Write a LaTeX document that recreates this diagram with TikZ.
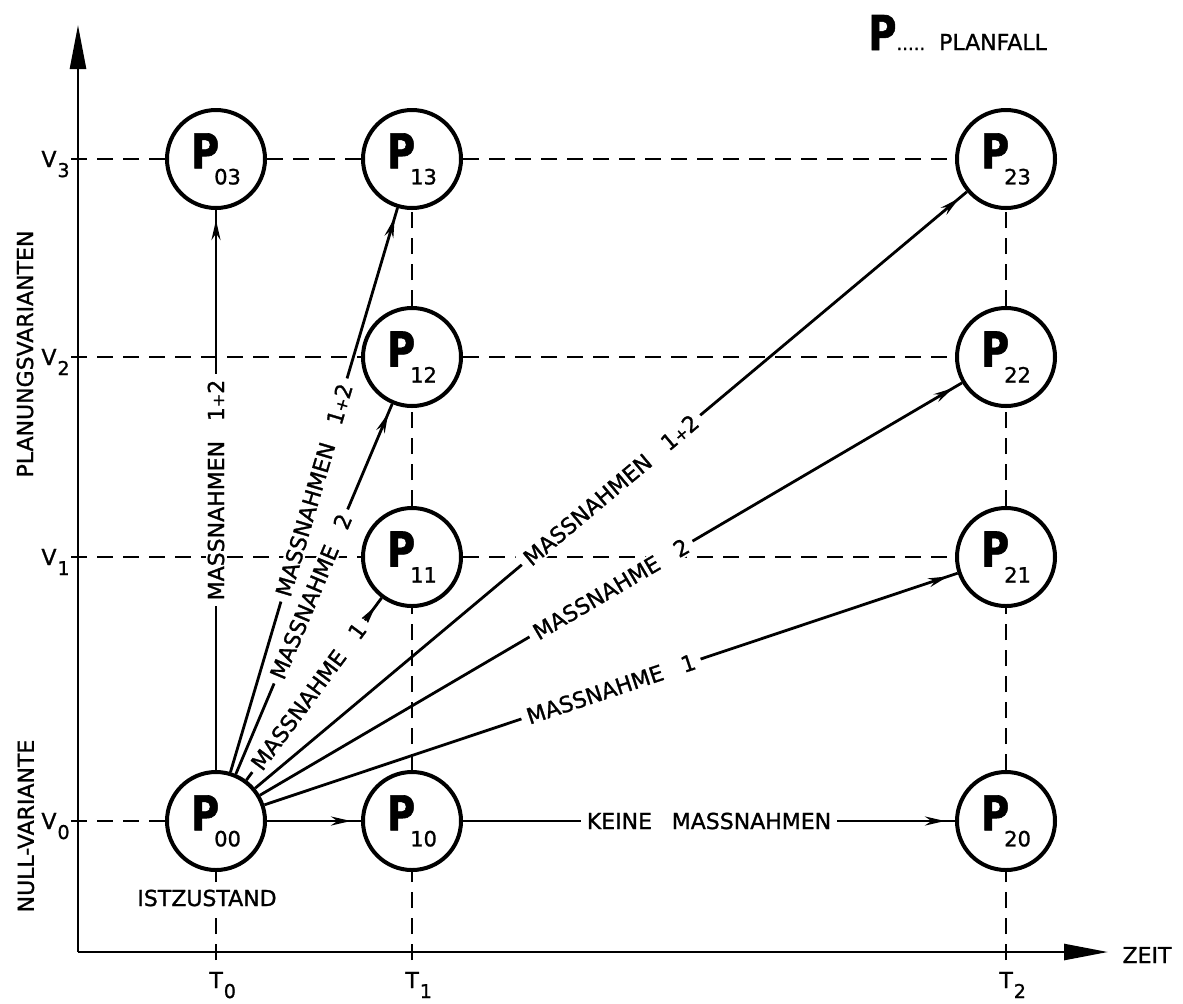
\documentclass[tikz,border=0pt]{standalone}
\usepackage{fontspec}
\setmainfont{DejaVu Sans}[FakeBold=1.2]
\usepackage{graphicx}
\usetikzlibrary{arrows.meta,decorations.markings}

\newcommand{\wgap}{\hspace{0.9em}}
\newcommand{\pplus}{{\fontsize{8}{8}\selectfont+}}
\newcommand{\bigP}{{\bfseries\scalebox{0.8}[1]{P}}}
\newcommand{\planP}[1]{\bigP\kern-2.5pt\raisebox{-8pt}{\fontsize{10.5}{10.5}\selectfont #1}}
\newcommand{\axsub}[2]{#1\kern0.5pt\raisebox{-5pt}{\fontsize{9.5}{9.5}\selectfont #2}}

\tikzset{
  plan/.style={circle, draw, line width=2pt, minimum size=49pt, inner sep=0pt,
    fill=white, font=\fontsize{24}{24}\selectfont},
  axis/.style={line width=1.3pt, -{Triangle[length=22pt,width=8pt]}},
  guide/.style={line width=1.1pt, dash pattern=on 8pt off 5pt},
  flow/.style={line width=1.4pt, postaction={decorate},
    decoration={markings, mark=at position -5pt with {\arrow{Stealth[length=10pt,width=4.5pt]}}}},
  lbl/.style={fill=white, inner xsep=3pt, inner ysep=1pt, font=\fontsize{11}{11}\selectfont},
  tag/.style={inner sep=0pt, font=\fontsize{11}{11}\selectfont}
}

\begin{document}
\begin{tikzpicture}[x=0.5pt, y=-0.5pt]
\useasboundingbox (0,0) rectangle (1183,1003);

% Axes
\coordinate (O) at (78,952);
\coordinate (ytop) at (78,25);
\coordinate (xend) at (1108,952);
\draw[axis] (O) -- (ytop);
\draw[axis] (O) -- (xend);
\node[tag] (zeit) at (1147,955) {ZEIT};
\node[tag, rotate=90] (planv) at (25,354) {PLANUNGSVARIANTEN};
\node[tag, rotate=90] (nullv) at (26,826) {NULL-VARIANTE};

% Axis labels
\foreach \i/\y in {0/821,1/557,2/357,3/159} {
  \coordinate (v\i) at (71,\y);
  \node[tag, anchor=base east] (lv\i) at (70,\y+8) {\axsub{V}{\i}};
}
\foreach \i/\x in {0/216,1/412,2/1006} {
  \coordinate (t\i) at (\x,960);
  \node[tag, anchor=base west] (lt\i) at (\x-7,988) {\axsub{T}{\i}};
}

% Planning cases
\node[plan] (P00) at (216,821) {\planP{00}};
\node[plan] (P03) at (216,159) {\planP{03}};
\node[plan] (P10) at (412,821) {\planP{10}};
\node[plan] (P11) at (412,557) {\planP{11}};
\node[plan] (P12) at (412,357) {\planP{12}};
\node[plan] (P13) at (412,159) {\planP{13}};
\node[plan] (P20) at (1006,821) {\planP{20}};
\node[plan] (P21) at (1006,557) {\planP{21}};
\node[plan] (P22) at (1006,357) {\planP{22}};
\node[plan] (P23) at (1006,159) {\planP{23}};

% Grid lines
\draw[guide] (v0) -- (P00);
\draw[guide] (v1) -- (P11);
\draw[guide] (P11) -- (P21);
\draw[guide] (v2) -- (P12);
\draw[guide] (P12) -- (P22);
\draw[guide] (v3) -- (P03);
\draw[guide] (P03) -- (P13);
\draw[guide] (P13) -- (P23);
\draw[guide] (t0) -- (P00);
\draw[guide] (t1) -- (P10);
\draw[guide] (P10) -- (P11);
\draw[guide] (P11) -- (P12);
\draw[guide] (P12) -- (P13);
\draw[guide] (t2) -- (P20);
\draw[guide] (P20) -- (P21);
\draw[guide] (P21) -- (P22);
\draw[guide] (P22) -- (P23);
\node[tag, fill=white, inner sep=2pt] (ist) at (207,898) {ISTZUSTAND};

% Transitions
\draw[flow] (P00) -- (P10);
\draw[flow] (P10) -- node[lbl] {KEINE\wgap MASSNAHMEN} (P20);
\draw[flow] (P00) -- node[lbl, sloped] {MASSNAHMEN\wgap 1\pplus 2} (P03);
\draw[flow] (P00) -- node[lbl, sloped, pos=0.46] {MASSNAHME\wgap 1} (P11);
\draw[flow] (P00) -- node[lbl, sloped, pos=0.48] {MASSNAHME\wgap 2} (P12);
\draw[flow] (P00) -- node[lbl, sloped] {MASSNAHMEN\wgap 1\pplus 2} (P13);
\draw[flow] (P00) -- node[lbl, sloped] {MASSNAHME\wgap 1} (P21);
\draw[flow] (P00) -- node[lbl, sloped] {MASSNAHME\wgap 2} (P22);
\draw[flow] (P00) -- node[lbl, sloped] {MASSNAHMEN\wgap 1\pplus 2} (P23);

% Legend
\node[tag, anchor=base west] (legend) at (868,50)
  {{\fontsize{24}{24}\selectfont\bigP}{\fontsize{9}{9}\selectfont.....}\hspace{7pt}PLANFALL};

\end{tikzpicture}
\end{document}
